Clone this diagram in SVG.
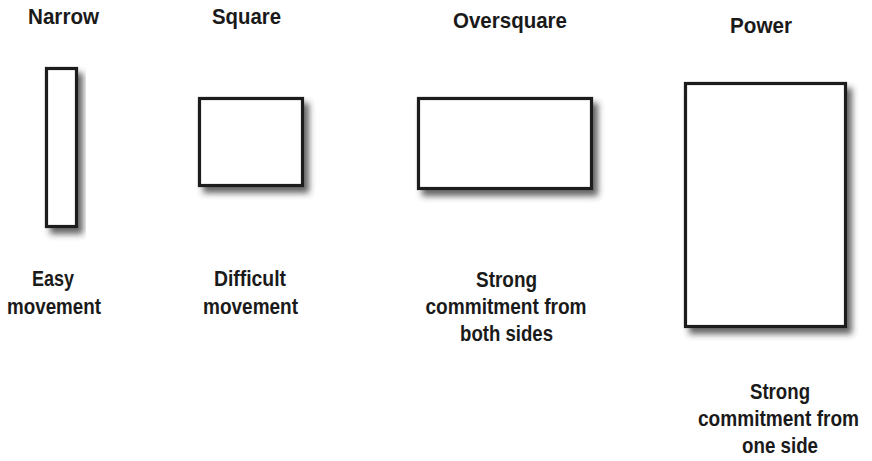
<svg xmlns="http://www.w3.org/2000/svg" width="872" height="461" viewBox="0 0 872 461">
<defs>
<filter id="sh" x="-30%" y="-30%" width="160%" height="160%">
<feDropShadow dx="5" dy="6" stdDeviation="3.2" flood-color="#333" flood-opacity="0.75"/>
</filter>
</defs>
<style>
.box{fill:#fff;stroke:#1e1e1e;stroke-width:3.2;filter:url(#sh)}
text{font-family:"Liberation Sans",Arial,sans-serif;font-weight:bold;font-size:22px;fill:#1a1a1a;text-anchor:middle}
</style>
<rect width="872" height="461" fill="#fff"/>
<g id="narrow">
<text transform="translate(63.5 24) scale(0.9 1)" textLength="78.9" lengthAdjust="spacingAndGlyphs">Narrow</text>
<rect class="box" x="46.5" y="68.5" width="30" height="158"/>
<text transform="translate(53 286) scale(0.9 1)" textLength="46.7" lengthAdjust="spacingAndGlyphs">Easy</text>
<text transform="translate(54 314) scale(0.9 1)" textLength="104.4" lengthAdjust="spacingAndGlyphs">movement</text>
</g>
<g id="square">
<text transform="translate(246.5 24) scale(0.9 1)" textLength="76.7" lengthAdjust="spacingAndGlyphs">Square</text>
<rect class="box" x="199.5" y="98.5" width="103" height="87"/>
<text transform="translate(250 286) scale(0.9 1)" textLength="80" lengthAdjust="spacingAndGlyphs">Difficult</text>
<text transform="translate(250.5 314) scale(0.9 1)" textLength="105.6" lengthAdjust="spacingAndGlyphs">movement</text>
</g>
<g id="oversquare">
<text transform="translate(510 28) scale(0.9 1)" textLength="126.7" lengthAdjust="spacingAndGlyphs">Oversquare</text>
<rect class="box" x="418.5" y="98.5" width="173" height="90"/>
<text transform="translate(506.5 287) scale(0.9 1)" textLength="67.8" lengthAdjust="spacingAndGlyphs">Strong</text>
<text transform="translate(506 314) scale(0.9 1)" textLength="178.9" lengthAdjust="spacingAndGlyphs">commitment from</text>
<text transform="translate(506.5 341) scale(0.9 1)" textLength="103.3" lengthAdjust="spacingAndGlyphs">both sides</text>
</g>
<g id="power">
<text transform="translate(761 33) scale(0.9 1)" textLength="68.9" lengthAdjust="spacingAndGlyphs">Power</text>
<rect class="box" x="685.5" y="83.5" width="160" height="243"/>
<text transform="translate(780 399) scale(0.9 1)" textLength="66.7" lengthAdjust="spacingAndGlyphs">Strong</text>
<text transform="translate(778.5 426) scale(0.9 1)" textLength="178.9" lengthAdjust="spacingAndGlyphs">commitment from</text>
<text transform="translate(780 453) scale(0.9 1)" textLength="84.4" lengthAdjust="spacingAndGlyphs">one side</text>
</g>
<g id="connectors"/>
</svg>
